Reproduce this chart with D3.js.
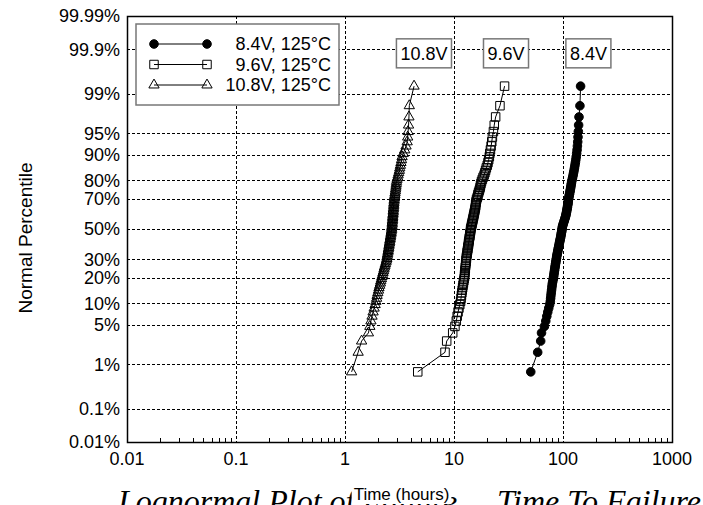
<!DOCTYPE html>
<html>
<head>
<meta charset="utf-8">
<script src="https://cdn.jsdelivr.net/npm/d3@7"></script>
<style>
body { margin: 0; background: #fff; }
svg { display: block; font-family: "Liberation Sans", Arial, sans-serif; }
</style>
</head>
<body>
<div id="chart"></div>
<script>
const width = 703;
const height = 505;
const margin = ({top: 16, right: 31, bottom: 63, left: 127});

// failure times (hours), sorted
const times84 = [50.6, 58.6, 62.4, 63.5, 67.5, 69.5, 71.0, 72.5, 74.0, 75.5,
    76.5, 77.0, 77.5, 78.0, 78.5, 79.0, 79.5, 80.0, 80.8, 81.5,
    82.0, 82.5, 83.0, 83.5, 84.0, 84.5, 85.0, 85.5, 86.0, 86.5,
    87.0, 87.5, 88.0, 88.6, 89.2, 89.8, 90.4, 91.0, 91.6, 92.2,
    92.8, 93.4, 94.0, 94.6, 95.2, 95.8, 96.3, 96.8, 97.3, 97.8,
    98.3, 98.8, 99.5, 100.5, 101.5, 102.5, 103.5, 104.5, 105.5, 106.3,
    107.0, 107.7, 108.4, 109.0, 109.6, 110.2, 110.8, 111.3, 111.8, 112.3,
    113.0, 113.8, 114.6, 115.4, 116.2, 117.0, 117.8, 118.6, 119.4, 120.2,
    121.5, 122.7, 123.9, 125.1, 126.3, 127.5, 128.7, 129.9, 131.1, 132.3,
    133.5, 134.6, 135.6, 136.5, 137.3, 138.2, 139.1, 140.2, 143.0, 145.0];

const times96 = [4.65, 8.27, 8.57, 9.73, 10.2, 10.5, 10.7, 10.9, 11.1, 11.3,
    11.5, 11.6, 11.7, 11.8, 11.9, 12.0, 12.1, 12.2, 12.3, 12.4,
    12.5, 12.5, 12.6, 12.6, 12.7, 12.7, 12.8, 12.8, 12.9, 12.9,
    13.0, 13.0, 13.1, 13.2, 13.2, 13.3, 13.4, 13.4, 13.5, 13.6,
    13.6, 13.7, 13.8, 13.8, 13.9, 14.0, 14.0, 14.1, 14.2, 14.2,
    14.3, 14.4, 14.5, 14.6, 14.7, 14.8, 14.9, 15.0, 15.1, 15.2,
    15.3, 15.4, 15.5, 15.6, 15.7, 15.8, 15.8, 15.9, 16.0, 16.1,
    16.3, 16.5, 16.6, 16.8, 17.0, 17.2, 17.4, 17.5, 17.7, 17.9,
    18.2, 18.5, 18.9, 19.2, 19.5, 19.8, 20.2, 20.5, 20.8, 21.1,
    21.3, 21.6, 21.9, 22.2, 22.5, 23.0, 23.4, 24.1, 26.4, 29.1];

const times108 = [1.15, 1.32, 1.42, 1.64, 1.69, 1.73, 1.77, 1.81, 1.85, 1.89,
    1.92, 1.95, 1.97, 2.00, 2.03, 2.05, 2.08, 2.11, 2.13, 2.16,
    2.18, 2.21, 2.23, 2.26, 2.28, 2.30, 2.33, 2.35, 2.38, 2.40,
    2.42, 2.43, 2.45, 2.46, 2.48, 2.49, 2.50, 2.52, 2.53, 2.54,
    2.56, 2.57, 2.58, 2.60, 2.61, 2.62, 2.64, 2.65, 2.66, 2.68,
    2.68, 2.69, 2.70, 2.71, 2.71, 2.72, 2.73, 2.74, 2.74, 2.75,
    2.76, 2.77, 2.77, 2.78, 2.79, 2.80, 2.80, 2.81, 2.82, 2.83,
    2.84, 2.85, 2.87, 2.88, 2.90, 2.91, 2.93, 2.94, 2.96, 2.97,
    3.00, 3.04, 3.07, 3.11, 3.15, 3.18, 3.22, 3.26, 3.30, 3.34,
    3.42, 3.53, 3.63, 3.72, 3.76, 3.79, 3.83, 3.86, 3.89, 4.30];

const seriesNames = ["8.4V, 125°C", "9.6V, 125°C", "10.8V, 125°C"];
const shortNames = ["8.4V", "9.6V", "10.8V"];
const xTicks = [0.01, 0.1, 1, 10, 100, 1000];
const xTickLabels = ["0.01", "0.1", "1", "10", "100", "1000"];
const yTicks = [0.0001, 0.001, 0.01, 0.05, 0.1, 0.2, 0.3, 0.5, 0.7, 0.8, 0.9, 0.95, 0.99, 0.999, 0.9999];
const yTickLabels = ["0.01%", "0.1%", "1%", "5%", "10%", "20%", "30%", "50%", "70%", "80%", "90%", "95%", "99%", "99.9%", "99.99%"];

// inverse normal cdf (Acklam)
function probit(p) {
    const a = [-3.969683028665376e+01, 2.209460984245205e+02, -2.759285104469687e+02, 1.383577518672690e+02, -3.066479806614716e+01, 2.506628277459239e+00];
    const b = [-5.447609879822406e+01, 1.615858368580409e+02, -1.556989798598866e+02, 6.680131188771972e+01, -1.328068155288572e+01];
    const c = [-7.784894002430293e-03, -3.223964580411365e-01, -2.400758277161838e+00, -2.549732539343734e+00, 4.374664141464968e+00, 2.938163982698783e+00];
    const d = [7.784695709041462e-03, 3.224671290700398e-01, 2.445134137142996e+00, 3.754408661907416e+00];
    const pl = 0.02425;
    let q, r;
    if (p < pl) {
        q = Math.sqrt(-2 * Math.log(p));
        return (((((c[0]*q+c[1])*q+c[2])*q+c[3])*q+c[4])*q+c[5]) / ((((d[0]*q+d[1])*q+d[2])*q+d[3])*q+1);
    } else if (p <= 1 - pl) {
        q = p - 0.5; r = q * q;
        return (((((a[0]*r+a[1])*r+a[2])*r+a[3])*r+a[4])*r+a[5])*q / (((((b[0]*r+b[1])*r+b[2])*r+b[3])*r+b[4])*r+1);
    } else {
        q = Math.sqrt(-2 * Math.log(1 - p));
        return -(((((c[0]*q+c[1])*q+c[2])*q+c[3])*q+c[4])*q+c[5]) / ((((d[0]*q+d[1])*q+d[2])*q+d[3])*q+1);
    }
}

// median rank plotting positions
const toPoints = (times) => times.map((t, i) => ({t: t, p: (i + 1 - 0.3) / (times.length + 0.4)}));

const data = [
    {name: seriesNames[0], tag: shortNames[0], shape: d3.symbolCircle, size: 58, fill: "#000", pts: toPoints(times84), tagAt: 171},
    {name: seriesNames[1], tag: shortNames[1], shape: d3.symbolSquare, size: 72, fill: "none", pts: toPoints(times96), tagAt: 30},
    {name: seriesNames[2], tag: shortNames[2], shape: d3.symbolTriangle, size: 46, fill: "none", pts: toPoints(times108), tagAt: 5.3}
];

const svg = d3.select("#chart").append("svg")
    .attr("width", width)
    .attr("height", height);

const x = d3.scaleLog()
    .domain([0.01, 1000])
    .range([margin.left, width - margin.right]);

const y = d3.scaleLinear()
    .domain([-3.666, 3.666])
    .range([height - margin.bottom, margin.top])
    .clamp(true);

const x0 = margin.left, x1 = width - margin.right;
const y0 = margin.top, y1 = height - margin.bottom;

// grid
const grid = svg.append("g")
    .attr("stroke", "#000")
    .attr("stroke-width", 1)
    .attr("stroke-dasharray", "3,2");

grid.selectAll(".gx")
    .data(xTicks.slice(1, -1))
    .join("line")
    .attr("x1", d => Math.round(x(d)) + 0.5)
    .attr("x2", d => Math.round(x(d)) + 0.5)
    .attr("y1", y0)
    .attr("y2", y1);

grid.selectAll(".gy")
    .data(yTicks.slice(1, -1))
    .join("line")
    .attr("x1", x0)
    .attr("x2", x1)
    .attr("y1", d => Math.round(y(probit(d))) + 0.5)
    .attr("y2", d => Math.round(y(probit(d))) + 0.5);

// minor ticks on the bottom axis
let minor = [];
for (let k = 0; k < 5; k++) {
    for (let m = 2; m < 10; m++) minor.push(xTicks[k] * m);
}
svg.append("g")
    .attr("stroke", "#000")
    .selectAll("line")
    .data(minor)
    .join("line")
    .attr("x1", d => Math.round(x(d)) + 0.5)
    .attr("x2", d => Math.round(x(d)) + 0.5)
    .attr("y1", y1)
    .attr("y2", y1 - 4);

// series
const line = d3.line()
    .x(d => x(d.t))
    .y(d => y(probit(d.p)));

const gs = svg.selectAll(".series")
    .data(data)
    .join("g")
    .attr("class", "series");

gs.append("path")
    .attr("d", d => line(d.pts))
    .attr("fill", "none")
    .attr("stroke", "#000")
    .attr("stroke-width", 1);

gs.each(function (s) {
    d3.select(this).selectAll(".mk")
        .data(s.pts)
        .join("path")
        .attr("class", "mk")
        .attr("transform", d => "translate(" + x(d.t) + "," + y(probit(d.p)) + ")")
        .attr("d", d3.symbol().type(s.shape).size(s.size))
        .attr("fill", s.fill)
        .attr("stroke", "#000")
        .attr("stroke-width", 1);
});

// frame
svg.append("rect")
    .attr("x", x0 + 0.5)
    .attr("y", y0 + 0.5)
    .attr("width", x1 - x0)
    .attr("height", y1 - y0)
    .attr("fill", "none")
    .attr("stroke", "#000")
    .attr("stroke-width", 1.5);

// tick labels
svg.append("g")
    .attr("font-size", 18)
    .attr("text-anchor", "end")
    .selectAll("text")
    .data(yTicks)
    .join("text")
    .attr("x", x0 - 7)
    .attr("y", d => y(probit(d)))
    .attr("dy", "0.36em")
    .text((d, i) => yTickLabels[i]);

svg.append("g")
    .attr("font-size", 18)
    .attr("text-anchor", "middle")
    .selectAll("text")
    .data(xTicks)
    .join("text")
    .attr("x", d => x(d))
    .attr("y", y1 + 23)
    .text((d, i) => xTickLabels[i]);

// figure caption behind the axis title (cut off by the page edge)
const cap = svg.append("g")
    .attr("font-family", "'Liberation Serif', 'Times New Roman', serif")
    .attr("font-style", "italic")
    .attr("font-size", 32);
cap.append("text").attr("x", 118).attr("y", 512).text("Lognormal Plot of Failure");
cap.append("text").attr("x", 497).attr("y", 512).text("Time To Failure");

// axis titles
const xtg = svg.append("g");
const xt = xtg.append("text")
    .attr("x", (x0 + x1) / 2 + 2)
    .attr("y", 500)
    .attr("text-anchor", "middle")
    .attr("font-size", 17)
    .text("Time (hours)");
const bb = xt.node().getBBox();
xtg.insert("rect", () => xt.node())
    .attr("x", bb.x - 2).attr("y", bb.y).attr("width", bb.width + 4).attr("height", bb.height)
    .attr("fill", "#fff");

svg.append("text")
    .attr("transform", "translate(32,238) rotate(-90)")
    .attr("text-anchor", "middle")
    .attr("font-size", 19)
    .text("Normal Percentile");

// legend
const legend = svg.append("g");
legend.append("rect")
    .attr("x", 136).attr("y", 24)
    .attr("width", 203).attr("height", 81)
    .attr("fill", "#fff")
    .attr("stroke", "#777")
    .attr("stroke-width", 1.5);

const li = legend.selectAll(".li")
    .data(data)
    .join("g")
    .attr("class", "li")
    .attr("transform", (d, i) => "translate(0," + (44 + i * 20.5) + ")");

li.append("line")
    .attr("x1", 154).attr("x2", 207)
    .attr("stroke", "#000");

li.each(function (s) {
    d3.select(this).selectAll(".lm")
        .data([154, 207])
        .join("path")
        .attr("class", "lm")
        .attr("transform", d => "translate(" + d + ",0)")
        .attr("d", d3.symbol().type(s.shape).size(s.size))
        .attr("fill", s.fill)
        .attr("stroke", "#000");
});

li.append("text")
    .attr("x", 331)
    .attr("dy", "0.36em")
    .attr("text-anchor", "end")
    .attr("font-size", 18)
    .text(d => d.name);

// tag boxes above each series
const tags = svg.selectAll(".tag")
    .data(data)
    .join("g")
    .attr("class", "tag")
    .attr("transform", d => "translate(" + x(d.tagAt) + "," + y(probit(0.99875)) + ")");

tags.append("text")
    .attr("text-anchor", "middle")
    .attr("dy", "0.36em")
    .attr("font-size", 18)
    .text(d => d.tag);

tags.each(function () {
    const g = d3.select(this);
    const t = g.select("text");
    const b = t.node().getBBox();
    g.insert("rect", () => t.node())
        .attr("x", b.x - 4).attr("y", -14.5)
        .attr("width", b.width + 8).attr("height", 29)
        .attr("fill", "#fff")
        .attr("stroke", "#777")
        .attr("stroke-width", 1.5);
});
</script>
</body>
</html>
